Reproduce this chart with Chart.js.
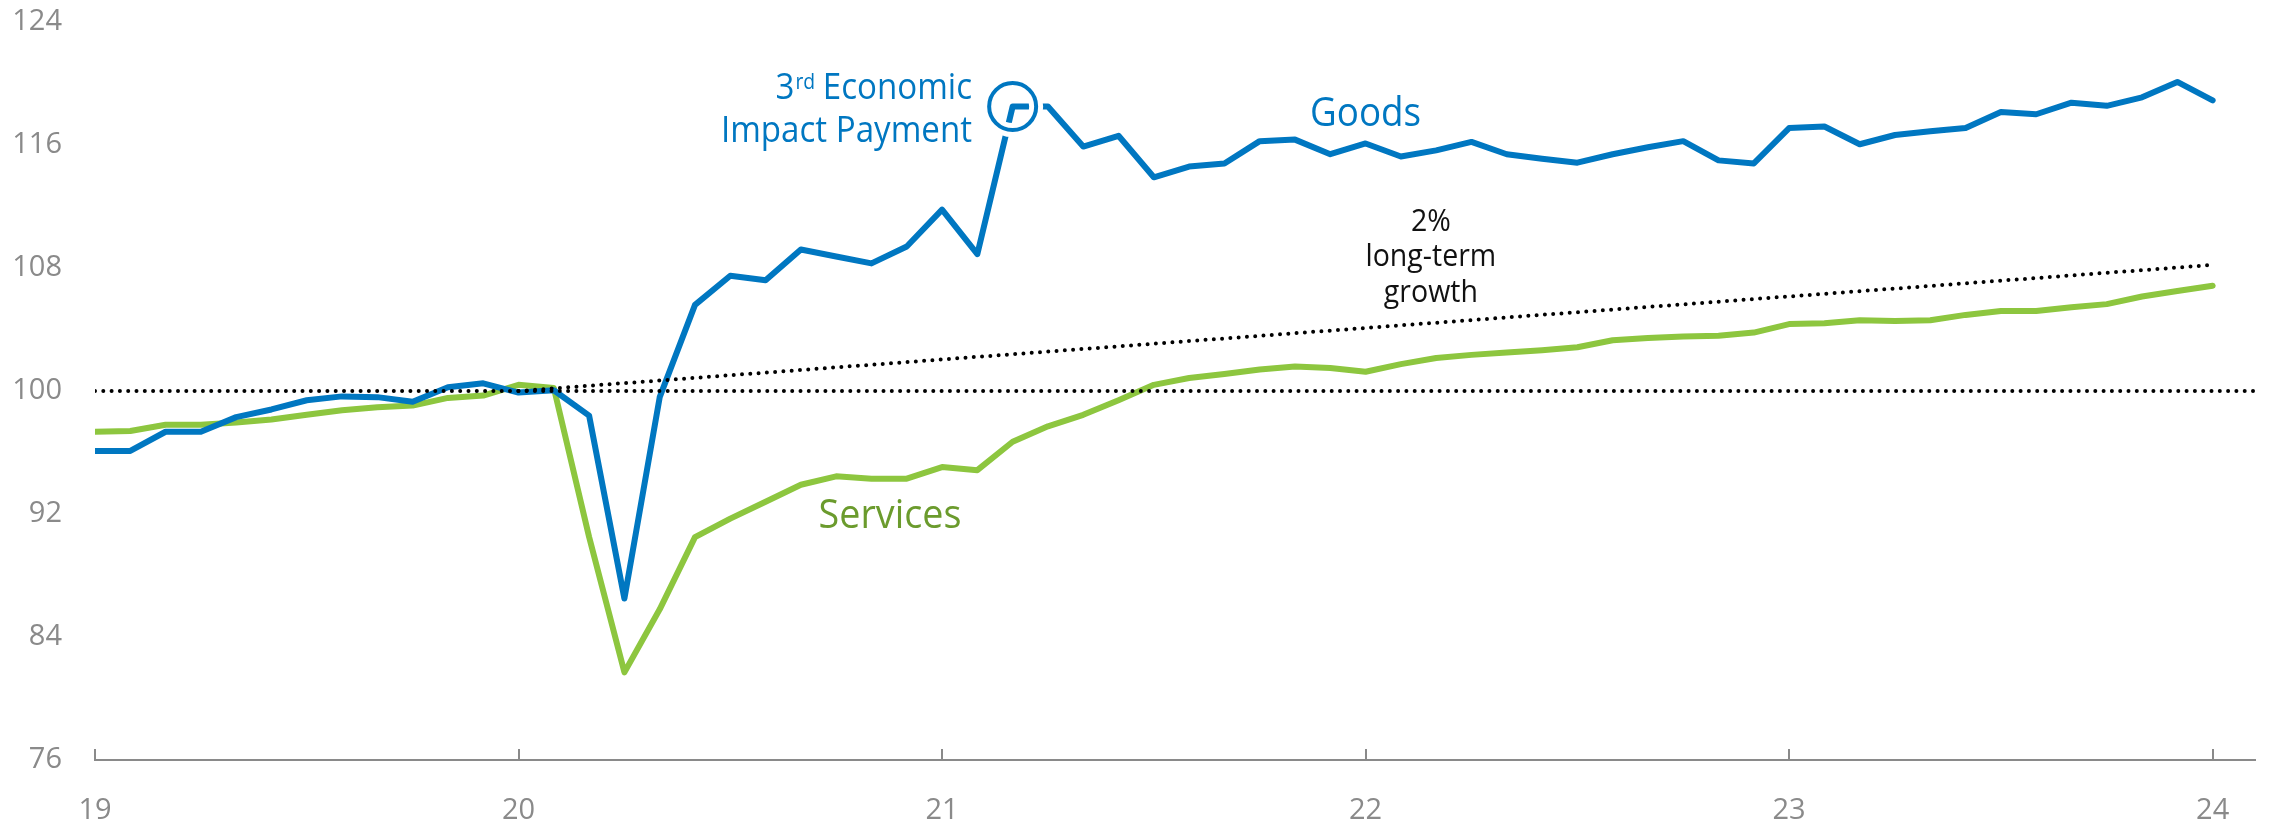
<!DOCTYPE html>
<html>
<head>
  <title>Goods vs Services spending</title>
  <script src="https://cdn.jsdelivr.net/npm/chart.js"></script>
  <style>
    body { margin: 0; background: #fff; }
    #chartCanvas { display: block; }
  </style>
</head>
<body>
  <canvas id="chartCanvas" width="2270" height="822"></canvas>

<script>
  // monthly index, Jan 2019 .. Jan 2024
  const yearLabels = ["19", "20", "21", "22", "23", "24"];
  const yearMonths = [0, 12, 24, 36, 48, 60];

  const goods = [
    96.1, 96.1, 97.35, 97.35, 98.3, 98.8, 99.4, 99.65, 99.6, 99.3, 100.25, 100.5,
    99.9, 100.05, 98.4, 86.5, 99.6, 105.6, 107.5, 107.2, 109.2, 108.75, 108.3, 109.4,
    111.8, 108.9, 118.5, 118.5, 115.9, 116.6, 113.9, 114.6, 114.8, 116.25, 116.35, 115.4,
    116.1, 115.25, 115.65, 116.2, 115.4, 115.1, 114.85, 115.4, 115.85, 116.25, 115.0, 114.8,
    117.1, 117.2, 116.05, 116.65, 116.9, 117.1, 118.15, 118.0, 118.75, 118.55, 119.1, 120.1,
    118.9
  ];

  const services = [
    97.35, 97.4, 97.8, 97.8, 97.95, 98.15, 98.45, 98.75, 98.95, 99.05, 99.55, 99.7,
    100.4, 100.2, 90.5, 81.7, 85.8, 90.5, 91.7, 92.8, 93.9, 94.45, 94.3, 94.3,
    95.05, 94.85, 96.7, 97.7, 98.45, 99.4, 100.4, 100.85, 101.1, 101.4, 101.6, 101.5,
    101.25, 101.75, 102.15, 102.35, 102.5, 102.65, 102.85, 103.3, 103.45, 103.55, 103.6, 103.8,
    104.35, 104.4, 104.6, 104.55, 104.6, 104.95, 105.2, 105.2, 105.45, 105.65, 106.15, 106.5,
    106.85
  ];

  // 2% long-term growth path, Jan 2020 -> Jan 2024
  const trendMonths = [12, 60];
  const trendValues = [100, 108.2];

  const baseMonths = [0, 61.2];
  const baseValues = [100, 100];

  const yMin = 76, yMax = 124, yStep = 8;
  const xMax = 61.2;

  // month index of the 3rd Economic Impact Payment
  const eipMonth = 26;

  const BLUE = "#0077c1";
  const GREEN = "#8dc63f";
  const GREEN_TEXT = "#6b9b2d";
  const GREY = "#8a8a8a";
  const FONT = "'Open Sans', 'Noto Sans', sans-serif";
  const SQUEEZE = 0.92;   // annotation text is a little narrower than the tick font

  const toPoints = (xs, ys) => ys.map((v, i) => ({ x: xs ? xs[i] : i, y: v }));

  // text notes placed in data space: x = month, y = value of first baseline
  const notes = [
    { lines: ["Goods"], x: 36, y: 117.24, size: 40, color: BLUE, align: "center" },
    { lines: ["Services"], x: 20.5, y: 91.07, size: 41, color: GREEN_TEXT, align: "left" },
    { lines: ["2%", "long-term", "growth"], x: 37.85, y: 110.43, size: 31, color: "#111", align: "center", lineHeight: 35.5 }
  ];

  function squeezedText(ctx, text, x, y, align) {
    ctx.save();
    ctx.translate(x, y);
    ctx.scale(SQUEEZE, 1);
    ctx.textAlign = align;
    ctx.fillText(text, 0, 0);
    ctx.restore();
  }

  const overlay = {
    id: "overlay",
    afterDatasetsDraw(chart) {
      const { ctx, scales: { x, y } } = chart;
      ctx.save();

      // year tick marks pointing up off the axis
      ctx.strokeStyle = GREY;
      ctx.lineWidth = 2;
      yearMonths.forEach(m => {
        const px = Math.round(x.getPixelForValue(m));
        ctx.beginPath();
        ctx.moveTo(px, y.bottom);
        ctx.lineTo(px, y.bottom - 11);
        ctx.stroke();
      });

      // ring round the payment month
      const cx = x.getPixelForValue(eipMonth);
      const cy = y.getPixelForValue(goods[eipMonth]);
      ctx.beginPath();
      ctx.arc(cx, cy, 23.5, 0, Math.PI * 2);
      ctx.strokeStyle = "#fff";
      ctx.lineWidth = 14;
      ctx.stroke();
      ctx.strokeStyle = BLUE;
      ctx.lineWidth = 4;
      ctx.stroke();

      ctx.textBaseline = "alphabetic";

      // "3rd Economic / Impact Payment", right aligned, with superscript
      const right = x.getPixelForValue(24.85);
      const base1 = y.getPixelForValue(118.97);
      ctx.fillStyle = BLUE;
      ctx.font = `36px ${FONT}`;
      const w3 = ctx.measureText("3").width * SQUEEZE;
      const wRest = ctx.measureText(" Economic").width * SQUEEZE;
      ctx.font = `21px ${FONT}`;
      const wSup = ctx.measureText("rd").width * SQUEEZE;
      const left = right - (w3 + wSup + wRest);
      ctx.font = `36px ${FONT}`;
      squeezedText(ctx, "3", left, base1, "left");
      ctx.font = `21px ${FONT}`;
      squeezedText(ctx, "rd", left + w3 + 1, base1 - 10, "left");
      ctx.font = `36px ${FONT}`;
      squeezedText(ctx, " Economic", left + w3 + wSup, base1, "left");
      squeezedText(ctx, "Impact Payment", right, base1 + 42.4, "right");

      notes.forEach(n => {
        ctx.font = `${n.size}px ${FONT}`;
        ctx.fillStyle = n.color;
        const nx = x.getPixelForValue(n.x);
        const ny = y.getPixelForValue(n.y);
        n.lines.forEach((t, i) => squeezedText(ctx, t, nx, ny + i * (n.lineHeight || 0), n.align));
      });

      ctx.restore();
    }
  };

  const dotted = {
    borderColor: "#000",
    borderWidth: 4,
    borderDash: [0, 8.3],
    borderCapStyle: "round",
    pointRadius: 0,
    fill: false,
    order: 0
  };

  new Chart(document.getElementById("chartCanvas"), {
    type: "line",
    data: {
      datasets: [
        { ...dotted, label: "100", data: toPoints(baseMonths, baseValues) },
        { ...dotted, label: "2% long-term growth", data: toPoints(trendMonths, trendValues) },
        {
          label: "Goods",
          data: toPoints(null, goods),
          borderColor: BLUE,
          borderWidth: 6,
          borderJoinStyle: "round",
          borderCapStyle: "round",
          pointRadius: 0,
          tension: 0,
          order: 1
        },
        {
          label: "Services",
          data: toPoints(null, services),
          borderColor: GREEN,
          borderWidth: 6,
          borderJoinStyle: "round",
          borderCapStyle: "round",
          pointRadius: 0,
          tension: 0,
          order: 2
        }
      ]
    },
    options: {
      responsive: false,
      animation: false,
      layout: { padding: { top: 22, right: 15, bottom: 0, left: 0 } },
      plugins: {
        legend: { display: false },
        tooltip: { enabled: false }
      },
      scales: {
        x: {
          type: "linear",
          min: 0,
          max: xMax,
          grid: { display: false, drawTicks: false },
          border: { display: true, color: GREY, width: 2 },
          afterBuildTicks: scale => { scale.ticks = yearMonths.map(v => ({ value: v })); },
          afterFit: scale => { scale.height = 62; },
          ticks: {
            padding: 33,
            color: GREY,
            font: { family: FONT, size: 29 },
            maxRotation: 0,
            callback: v => yearLabels[yearMonths.indexOf(v)]
          }
        },
        y: {
          min: yMin,
          max: yMax,
          grid: { display: false, drawTicks: false },
          border: { display: false },
          afterFit: scale => {
            scale.width = 95;
            scale.paddingTop = 0;
            scale.paddingBottom = 0;
          },
          ticks: {
            stepSize: yStep,
            padding: 33,
            color: GREY,
            font: { family: FONT, size: 29 }
          }
        }
      }
    },
    plugins: [overlay]
  });
</script>
</body>
</html>
